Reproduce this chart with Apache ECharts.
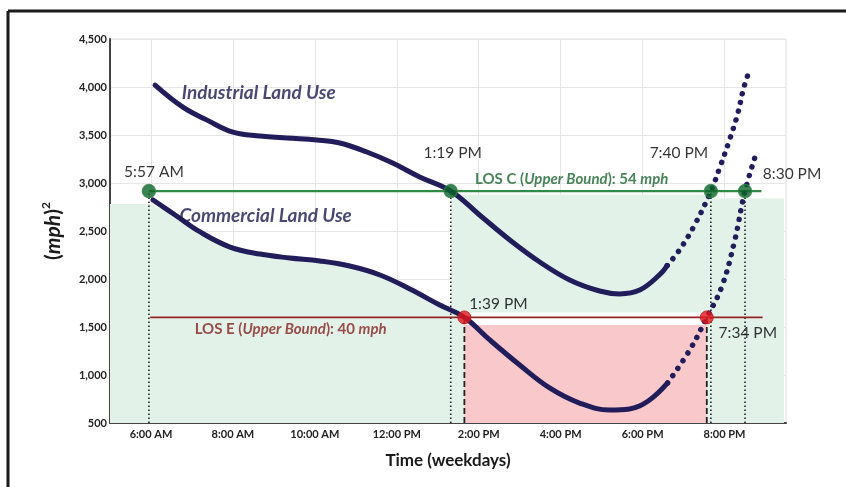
<!DOCTYPE html>
<html>
<head>
<meta charset="utf-8">
<script src="https://cdn.jsdelivr.net/npm/echarts@6/dist/echarts.min.js"></script>
<style>
  html, body { margin: 0; padding: 0; background: #fff; }
  #chart { width: 846px; height: 487px; }
</style>
</head>
<body>
<div id="chart"></div>
<script>
// Time of day in decimal hours, values in (mph)^2
const industrialSolid = [[6.10, 4020], [6.78, 3790], [7.37, 3655], [8.00, 3530], [8.66, 3490], [9.32, 3468], [10.05, 3448], [10.61, 3417], [11.27, 3323], [11.90, 3208], [12.56, 3063], [13.32, 2916], [14.02, 2667], [14.76, 2406], [15.49, 2177], [16.22, 1990], [16.95, 1875], [17.44, 1845], [17.93, 1885], [18.41, 2042], [18.60, 2140]];
const industrialDotted = [[18.60, 2140], [18.90, 2302], [19.27, 2563], [19.667, 2916], [19.88, 3156], [20.12, 3448], [20.32, 3719], [20.46, 3979], [20.56, 4115]];
const commercialSolid = [[6.05, 2823], [6.59, 2667], [7.20, 2490], [7.93, 2333], [8.66, 2260], [9.39, 2219], [10.12, 2188], [10.85, 2135], [11.59, 2042], [12.32, 1896], [13.05, 1729], [13.65, 1600], [14.27, 1365], [15.00, 1104], [15.73, 865], [16.46, 708], [17.20, 635], [17.68, 646], [18.17, 740], [18.61, 917]];
const commercialDotted = [[18.61, 917], [19.15, 1260], [19.567, 1600], [19.93, 1917], [20.24, 2385], [20.50, 2916], [20.80, 3344]];

// Level-of-service thresholds (speed squared)
const losC = 2916;   // 54 mph
const losE = 1600;   // 40 mph
const losCLabels = ['5:57 AM', '1:19 PM', '7:40 PM', '8:30 PM'];
const losELabels = ['1:39 PM', '7:34 PM'];

// Axis ticks
const xTicks = [6, 8, 10, 12, 14, 16, 18, 20];
const yMin = 500, yMax = 4500, yStep = 500;

// Shaded band tops
const shadeLeftTop = 2780;
const shadeMidTop = 2880;
const shadeRightTop = 2840;
const pinkTop = 1520;
const gapTop = 1650;

function toHours(s) {
  const m = s.match(/(\d+):(\d+)\s*(AM|PM)/);
  let h = +m[1] % 12;
  if (m[3] === 'PM') h += 12;
  return h + (+m[2]) / 60;
}
function hourLabel(v) {
  const h = Math.round(v);
  const suf = h < 12 ? 'AM' : 'PM';
  const hh = h % 12 === 0 ? 12 : h % 12;
  return hh + ':00 ' + suf;
}

const cTimes = losCLabels.map(toHours);
const eTimes = losELabels.map(toHours);

// green fill that follows the commercial curve between the first two LOS C crossings
function interp(pts, x) {
  for (let i = 1; i < pts.length; i++) {
    if (pts[i][0] >= x) {
      const [x0, y0] = pts[i - 1], [x1, y1] = pts[i];
      return y0 + (y1 - y0) * (x - x0) / (x1 - x0);
    }
  }
  return pts[pts.length - 1][1];
}
const fillUnderCommercial = [[cTimes[0], shadeLeftTop]]
  .concat(commercialSolid.filter(p => p[0] > 6.3 && p[0] < cTimes[1]))
  .concat([[cTimes[1], interp(commercialSolid, cTimes[1])]]);

const navy = '#211c5a';
const green = '#e2f2e8';
const font = 'Lato, "Open Sans", sans-serif';

const labelOffsetsC = [[5, -19], [2, -38], [-32, -38], [47, -17]];
const labelOffsetsE = [[34, -13], [41, 16]];

const dropLines = [];
cTimes.forEach(t => dropLines.push({
  type: 'line', silent: true, symbol: 'none', z: 3,
  data: [[t, yMin], [t, losC]],
  lineStyle: { color: '#222', width: 1.6, type: [1.5, 2.5] }
}));
eTimes.forEach(t => dropLines.push({
  type: 'line', silent: true, symbol: 'none', z: 3,
  data: [[t, yMin], [t, losE]],
  lineStyle: { color: '#222', width: 1.8, type: [6, 3] }
}));

const dotted = { color: navy, width: 5.5, type: [0.01, 9], cap: 'round' };
const timeLabel = { fontFamily: font, fontSize: 15.5, color: '#000' };

const chart = echarts.init(document.getElementById('chart'), null, { renderer: 'canvas' });
chart.setOption({
  animation: false,
  backgroundColor: '#fff',
  textStyle: { fontFamily: font },
  grid: { left: 110, right: 60, top: 39, bottom: 64, show: true, borderColor: '#dcdcdc', borderWidth: 1 },
  graphic: [
    { type: 'line', shape: { x1: 8, y1: 11, x2: 846, y2: 11 }, style: { stroke: '#1a1a1a', lineWidth: 3 } },
    { type: 'line', shape: { x1: 8, y1: 11, x2: 8, y2: 487 }, style: { stroke: '#1a1a1a', lineWidth: 3 } }
  ],
  xAxis: {
    type: 'value', min: 5, max: 21.5,
    name: 'Time (weekdays)', nameLocation: 'middle', nameGap: 29,
    nameTextStyle: { fontFamily: font, fontWeight: 'bold', fontSize: 17, color: '#1a1a1a' },
    axisLine: { show: true, onZero: false, lineStyle: { color: '#444', width: 2 } },
    axisTick: { show: false, customValues: xTicks },
    axisLabel: { customValues: xTicks, formatter: hourLabel, fontFamily: font, fontWeight: 'bold', fontSize: 11, color: '#222', margin: 6 },
    splitLine: { show: true, lineStyle: { color: '#e6e6e6', width: 1 } }
  },
  yAxis: {
    type: 'value', min: yMin, max: yMax, interval: yStep,
    name: '{p|(}{i|mph}{p|)}{s|2}', nameLocation: 'middle', nameGap: 44, nameRotate: 90,
    nameTextStyle: {
      rich: {
        p: { fontFamily: font, fontWeight: 'bold', fontSize: 21, color: '#1a1a1a', lineHeight: 26 },
        i: { fontFamily: font, fontWeight: 'bold', fontStyle: 'italic', fontSize: 21, color: '#1a1a1a', lineHeight: 26 },
        s: { fontFamily: font, fontWeight: 'bold', fontSize: 12, color: '#1a1a1a', verticalAlign: 'top', lineHeight: 26 }
      }
    },
    axisLine: { show: true, onZero: false, lineStyle: { color: '#444', width: 2 } },
    axisTick: { show: false },
    axisLabel: {
      fontFamily: font, fontWeight: 'bold', fontSize: 11, color: '#222', margin: 3,
      formatter: v => v.toLocaleString('en-US')
    },
    splitLine: { show: true, lineStyle: { color: '#e6e6e6', width: 1 } }
  },
  series: [
    {
      // shaded regions
      type: 'line', silent: true, symbol: 'none', z: 1, smooth: 0.4,
      data: fillUnderCommercial,
      lineStyle: { width: 0 },
      areaStyle: { color: green, opacity: 1, origin: 'start' },
      markArea: {
        silent: true,
        data: [
          [{ coord: [5.0, yMin], itemStyle: { color: green } }, { coord: [cTimes[0], shadeLeftTop] }],
          [{ coord: [cTimes[1], yMin], itemStyle: { color: green } }, { coord: [cTimes[2], shadeMidTop] }],
          [{ coord: [cTimes[2], yMin], itemStyle: { color: green } }, { coord: [21.45, shadeRightTop] }],
          [{ coord: [eTimes[0], pinkTop], itemStyle: { color: '#ffffff' } }, { coord: [eTimes[1], gapTop] }],
          [{ coord: [eTimes[0], yMin], itemStyle: { color: '#f8c8ca' } }, { coord: [eTimes[1], pinkTop] }]
        ]
      }
    },
    ...dropLines,
    {
      name: 'LOS C', type: 'line', silent: true, symbol: 'none', z: 4,
      data: [[cTimes[0], losC], [20.9, losC]],
      lineStyle: { color: '#2f8a45', width: 2.2 }
    },
    {
      name: 'LOS E', type: 'line', silent: true, symbol: 'none', z: 4,
      data: [[5.98, losE], [20.93, losE]],
      lineStyle: { color: '#922626', width: 1.8 }
    },
    {
      name: 'Industrial Land Use', type: 'line', smooth: 0.4, symbol: 'none', z: 5,
      data: industrialSolid,
      lineStyle: { color: navy, width: 5, cap: 'round' }
    },
    {
      type: 'line', smooth: 0.4, symbol: 'none', z: 5,
      data: industrialDotted,
      lineStyle: dotted
    },
    {
      name: 'Commercial Land Use', type: 'line', smooth: 0.4, symbol: 'none', z: 5,
      data: commercialSolid,
      lineStyle: { color: navy, width: 5, cap: 'round' }
    },
    {
      type: 'line', smooth: 0.4, symbol: 'none', z: 5,
      data: commercialDotted,
      lineStyle: dotted
    },
    {
      // LOS C crossings
      type: 'scatter', z: 6, symbolSize: 13,
      itemStyle: { color: '#0b6529', borderColor: '#2f7f47', borderWidth: 1.5 },
      data: cTimes.map((t, i) => ({
        value: [t, losC],
        label: Object.assign({ show: true, position: 'inside', offset: labelOffsetsC[i], formatter: losCLabels[i] }, timeLabel)
      }))
    },
    {
      // LOS E crossings
      type: 'scatter', z: 6, symbolSize: 13,
      itemStyle: { color: '#e3171c', borderColor: '#b81a1a', borderWidth: 1 },
      data: eTimes.map((t, i) => ({
        value: [t, losE],
        label: Object.assign({ show: true, position: 'inside', offset: labelOffsetsE[i], formatter: losELabels[i] }, timeLabel)
      }))
    },
    {
      // text annotations
      type: 'scatter', z: 7, symbolSize: 0, silent: true,
      data: [
        { value: [8.63, 3938], label: { show: true, position: 'inside', formatter: 'Industrial Land Use',
            fontFamily: font, fontSize: 19, fontWeight: 'bold', fontStyle: 'italic', color: '#1d1950' } },
        { value: [8.80, 2656], label: { show: true, position: 'inside', formatter: 'Commercial Land Use',
            fontFamily: font, fontSize: 19, fontWeight: 'bold', fontStyle: 'italic', color: '#1d1950' } },
        { value: [16.27, losC], label: { show: true, position: 'inside', offset: [0, -12],
            formatter: '{n|LOS C (}{i|Upper Bound}{n|): 54 }{i|mph}',
            rich: {
              n: { fontFamily: font, fontSize: 15, fontWeight: 'bold', color: '#1c6530' },
              i: { fontFamily: font, fontSize: 15, fontWeight: 'bold', fontStyle: 'italic', color: '#1c6530' }
            } } },
        { value: [9.41, losE], label: { show: true, position: 'inside', offset: [0, 12],
            formatter: '{n|LOS E (}{i|Upper Bound}{n|): 40 }{i|mph}',
            rich: {
              n: { fontFamily: font, fontSize: 15, fontWeight: 'bold', color: '#862020' },
              i: { fontFamily: font, fontSize: 15, fontWeight: 'bold', fontStyle: 'italic', color: '#862020' }
            } } }
      ]
    }
  ]
});
</script>
</body>
</html>
